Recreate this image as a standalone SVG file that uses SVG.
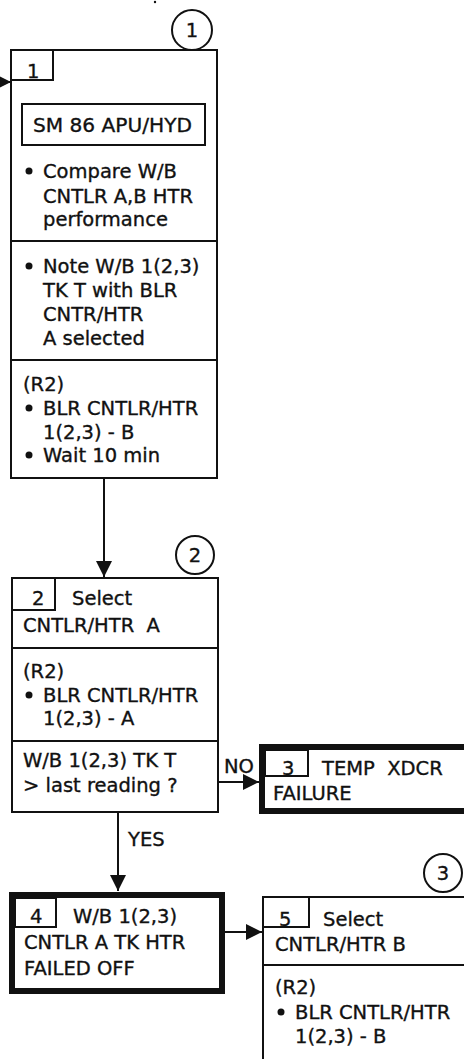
<svg xmlns="http://www.w3.org/2000/svg" width="464" height="1059" viewBox="0 0 464 1059">
<defs>
<style>
text{font-family:"DejaVu Sans","Liberation Sans",sans-serif;font-size:19.5px;fill:#111;stroke:#111;stroke-width:0.35;white-space:pre}
.b{fill:#fff;stroke:#111;stroke-width:2}
.t{fill:#fff;stroke:#111;stroke-width:6}
.l{fill:none;stroke:#111;stroke-width:2}
.c{fill:#fff;stroke:#111;stroke-width:2}
</style>
<marker id="ah" viewBox="0 0 10 10" refX="10" refY="5" markerWidth="12" markerHeight="12" markerUnits="userSpaceOnUse" orient="auto"><path d="M0,0 L10,5 L0,10 Z" fill="#111"/></marker>
<marker id="ahb" viewBox="0 0 10 10" refX="10" refY="5" markerWidth="16" markerHeight="16" markerUnits="userSpaceOnUse" orient="auto"><path d="M0,0 L10,5 L0,10 Z" fill="#111"/></marker>
</defs>
<rect width="464" height="1059" fill="#fff"/>
<circle cx="155" cy="2" r="1.2" fill="#111"/>
<g id="connectors">
<line class="l" x1="0" y1="82" x2="11" y2="82" marker-end="url(#ah)"/>
<line class="l" x1="104" y1="478" x2="104" y2="577" marker-end="url(#ahb)"/>
<line class="l" x1="218" y1="782" x2="259" y2="782" marker-end="url(#ahb)"/>
<line class="l" x1="118" y1="812" x2="118" y2="891" marker-end="url(#ahb)"/>
<line class="l" x1="223" y1="932" x2="262" y2="932" marker-end="url(#ahb)"/>
<text x="224" y="773">NO</text>
<text x="128" y="846">YES</text>
</g>
<g id="ref1"><circle class="c" cx="192" cy="30" r="20"/><text x="192" y="37" text-anchor="middle">1</text></g>
<g id="ref2"><circle class="c" cx="195" cy="555" r="19"/><text x="195" y="562" text-anchor="middle">2</text></g>
<g id="ref3"><circle class="c" cx="443" cy="873" r="19"/><text x="443" y="880" text-anchor="middle">3</text></g>
<g id="node1">
<rect class="b" x="11" y="50" width="206" height="428"/>
<rect class="b" x="11" y="50" width="42" height="30"/>
<text x="27" y="78">1</text>
<rect class="b" x="22" y="104" width="183" height="41"/>
<text x="33" y="132" textLength="159" lengthAdjust="spacingAndGlyphs">SM 86 APU/HYD</text>
<circle cx="29" cy="171" r="3.5" fill="#111"/>
<text x="43" y="178">Compare W/B</text>
<text x="43" y="203">CNTLR A,B HTR</text>
<text x="43" y="226">performance</text>
<line class="l" x1="11" y1="241" x2="217" y2="241"/>
<circle cx="29" cy="266" r="3.5" fill="#111"/>
<text x="43" y="273">Note W/B 1(2,3)</text>
<text x="43" y="297">TK T with BLR</text>
<text x="43" y="321">CNTR/HTR</text>
<text x="43" y="345">A selected</text>
<line class="l" x1="11" y1="360" x2="217" y2="360"/>
<text x="23" y="391">(R2)</text>
<circle cx="29" cy="408" r="3.5" fill="#111"/>
<text x="43" y="415">BLR CNTLR/HTR</text>
<text x="43" y="439">1(2,3) - B</text>
<circle cx="29" cy="455" r="3.5" fill="#111"/>
<text x="43" y="462">Wait 10 min</text>
</g>
<g id="node2">
<rect class="b" x="12" y="578" width="206" height="234"/>
<rect class="b" x="12" y="578" width="43" height="32"/>
<text x="32" y="605">2</text>
<text x="72" y="605">Select</text>
<text x="23" y="632">CNTLR/HTR  A</text>
<line class="l" x1="12" y1="648" x2="218" y2="648"/>
<text x="23" y="678">(R2)</text>
<circle cx="29" cy="695" r="3.5" fill="#111"/>
<text x="43" y="702">BLR CNTLR/HTR</text>
<text x="43" y="725">1(2,3) - A</text>
<line class="l" x1="12" y1="741" x2="218" y2="741"/>
<text x="23" y="767">W/B 1(2,3) TK T</text>
<text x="23" y="792">&gt; last reading ?</text>
</g>
<g id="node3">
<rect class="t" x="262" y="747" width="210" height="64"/>
<rect class="b" x="265" y="750" width="43" height="26"/>
<text x="282" y="775">3</text>
<text x="322" y="775">TEMP  XDCR</text>
<text x="273" y="800">FAILURE</text>
</g>
<g id="node4">
<rect class="t" x="12" y="895" width="210" height="96"/>
<rect class="b" x="15" y="898" width="41" height="29"/>
<text x="30" y="923">4</text>
<text x="73" y="923">W/B 1(2,3)</text>
<text x="24" y="949">CNTLR A TK HTR</text>
<text x="24" y="975">FAILED OFF</text>
</g>
<g id="node5">
<rect class="b" x="263" y="897" width="210" height="170"/>
<rect class="b" x="263" y="897" width="46" height="30"/>
<text x="279" y="926">5</text>
<text x="323" y="926">Select</text>
<text x="275" y="951">CNTLR/HTR B</text>
<line class="l" x1="263" y1="965" x2="464" y2="965"/>
<text x="275" y="994">(R2)</text>
<circle cx="281" cy="1012" r="3.5" fill="#111"/>
<text x="295" y="1019">BLR CNTLR/HTR</text>
<text x="295" y="1043">1(2,3) - B</text>
</g>
</svg>
